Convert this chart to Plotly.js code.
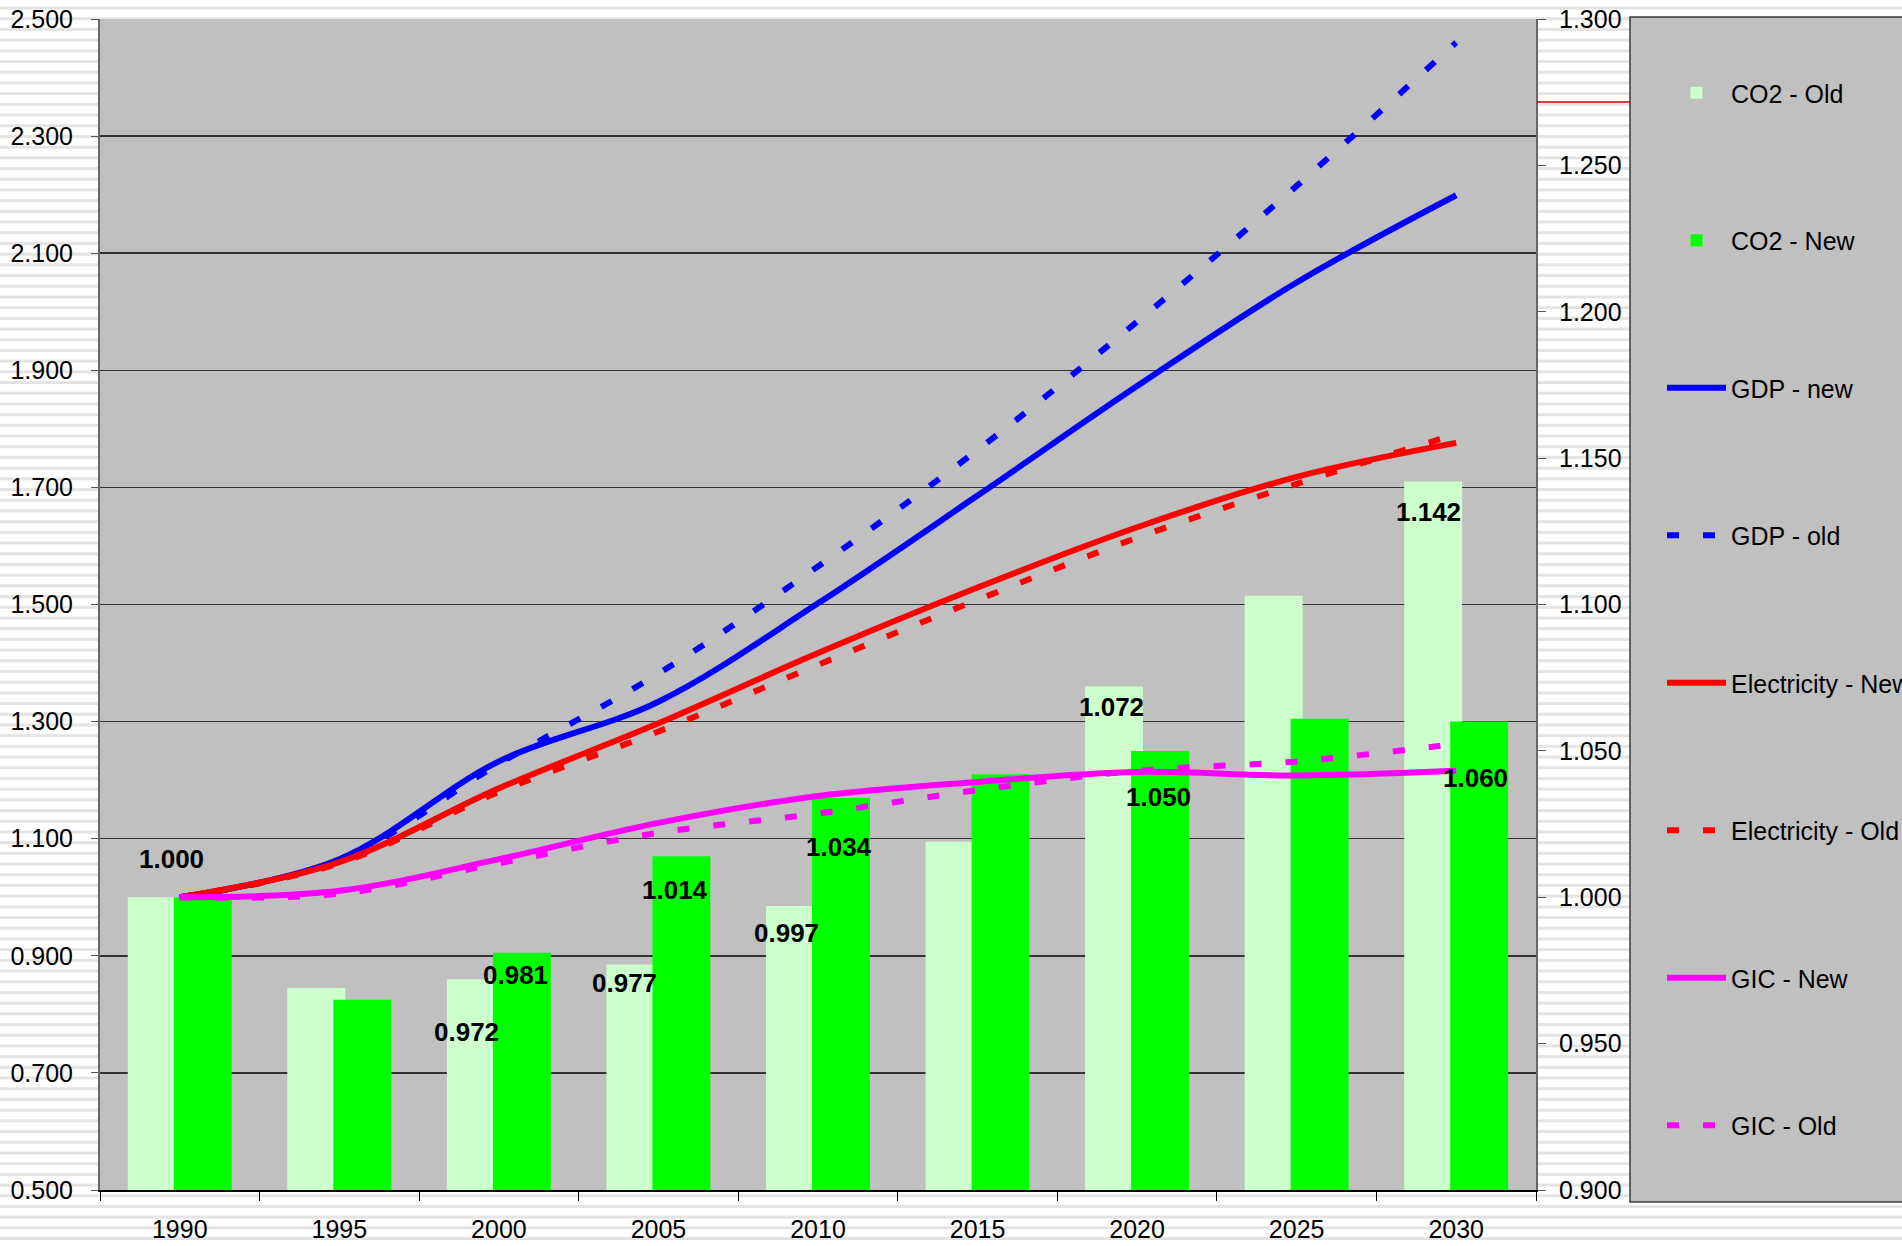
<!DOCTYPE html>
<html>
<head>
<meta charset="utf-8">
<script src="https://cdn.plot.ly/plotly-3.0.1.min.js"></script>
<style>
  html, body { margin: 0; padding: 0; }
  body {
    width: 1902px; height: 1246px; overflow: hidden;
    background: repeating-linear-gradient(to bottom, #ffffff 0px, #ffffff 6px, #e6e6e6 7px, #e2e2e2 9px, #ffffff 10px, #ffffff 10.7px);
  }
  #chart { width: 1902px; height: 1246px; }
</style>
</head>
<body>
<div id="chart"></div>
<script>
// ---------- data ----------
const years = ['1990', '1995', '2000', '2005', '2010', '2015', '2020', '2025', '2030'];

// bars (right axis)
const co2Old = [1.000, 0.969, 0.972, 0.977, 0.997, 1.019, 1.072, 1.103, 1.142];
const co2New = [1.000, 0.965, 0.981, 1.014, 1.034, 1.042, 1.050, 1.061, 1.060];

// lines (left axis)
const gdpNew  = [1.000, 1.065, 1.232, 1.334, 1.502, 1.686, 1.873, 2.050, 2.199];
const gdpOld  = [1.000, 1.063, 1.228, 1.382, 1.565, 1.764, 1.983, 2.215, 2.460];
const elecNew = [1.000, 1.060, 1.186, 1.297, 1.417, 1.529, 1.632, 1.718, 1.776];
const elecOld = [1.000, 1.058, 1.180, 1.283, 1.397, 1.508, 1.614, 1.706, 1.791];
const gicNew  = [1.000, 1.011, 1.065, 1.127, 1.173, 1.197, 1.214, 1.208, 1.216];
const gicOld  = [1.000, 1.006, 1.058, 1.110, 1.143, 1.183, 1.216, 1.232, 1.262];

const seriesNames = ['CO2 - Old', 'CO2 - New', 'GDP - new', 'GDP - old',
                     'Electricity - New', 'Electricity - Old', 'GIC - New', 'GIC - Old'];

// which bars carry a value label
const labelSeries = ['old', 'old', 'new', 'old', 'new', 'old', 'new', 'old', 'new', 'old', 'new'];
const labelYears  = ['1990', '2000', '2000', '2005', '2005', '2010', '2010', '2020', '2020', '2030', '2030'];

// ---------- styling / geometry ----------
const FONT = 'Liberation Sans, Arial, sans-serif';
const W = 1902, H = 1246;
const M = { l: 100, r: 366, t: 19, b: 56 };
const plotW = W - M.l - M.r, plotH = H - M.t - M.b;
const catPx = plotW / years.length;
const BAR_W = 0.363, OLD_OFF = -0.326, NEW_OFF = -0.0376;
const oldCenterPx = (OLD_OFF + BAR_W / 2) * catPx;
const newCenterPx = (NEW_OFF + BAR_W / 2) * catPx;
// label offsets relative to bar top-centre (px), right / down
const labelDx = [15, -9, -6, -11, -6, -8, -2, -3, -2, -5, -4];
const labelDy = [-38, 53, 22, 18, 34, 27, 49, 21, 46, 30, 56];

const px2paperX = p => (p - M.l) / plotW;
const px2paperY = p => 1 - (p - M.t) / plotH;
const DASH = '12px,24px';

function lineTrace(name, y, color, dashed, g) {
  return {
    type: 'scatter', mode: 'lines', name: name, x: years, y: y, yaxis: 'y2',
    line: { color: color, width: 6, shape: 'spline', dash: dashed ? DASH : 'solid' },
    legendgroup: g, hoverinfo: 'skip'
  };
}

const data = [
  { type: 'bar', name: seriesNames[0], x: years, y: co2Old, yaxis: 'y',
    width: BAR_W, offset: OLD_OFF, marker: { color: '#ccffcc', line: { width: 0 } },
    legendgroup: 'g1', hoverinfo: 'skip' },
  { type: 'bar', name: seriesNames[1], x: years, y: co2New, yaxis: 'y',
    width: BAR_W, offset: NEW_OFF, marker: { color: '#00ff00', line: { width: 0 } },
    legendgroup: 'g2', hoverinfo: 'skip' },
  lineTrace(seriesNames[2], gdpNew, '#0000ff', false, 'g3'),
  lineTrace(seriesNames[3], gdpOld, '#0000ff', true, 'g4'),
  lineTrace(seriesNames[4], elecNew, '#ff0000', false, 'g5'),
  lineTrace(seriesNames[5], elecOld, '#ff0000', true, 'g6'),
  lineTrace(seriesNames[6], gicNew, '#ff00ff', false, 'g7'),
  lineTrace(seriesNames[7], gicOld, '#ff00ff', true, 'g8')
];

const annotations = labelSeries.map((s, i) => {
  const idx = years.indexOf(labelYears[i]);
  const v = s === 'old' ? co2Old[idx] : co2New[idx];
  const cx = s === 'old' ? oldCenterPx : newCenterPx;
  return {
    xref: 'x', yref: 'y', x: idx, y: v,   // category index on the category axis
    text: v.toFixed(3), showarrow: false,
    xshift: cx + labelDx[i], yshift: -labelDy[i],
    font: { family: FONT, size: 26, color: '#000', weight: 700 }
  };
});

const shapes = [
  // legend frame
  { type: 'rect', xref: 'paper', yref: 'paper', layer: 'below',
    x0: px2paperX(1630), x1: px2paperX(1915), y0: px2paperY(1202), y1: px2paperY(17),
    fillcolor: '#c0c0c0', line: { color: '#3a3a3a', width: 1.5 } },
  // short red stroke between right axis and legend
  { type: 'line', xref: 'paper', yref: 'paper',
    x0: px2paperX(1537), x1: px2paperX(1630), y0: px2paperY(102), y1: px2paperY(102),
    line: { color: '#cc0000', width: 1.5 } }
];

const layout = {
  width: W, height: H,
  margin: { l: M.l, r: M.r, t: M.t, b: M.b, pad: 0, autoexpand: false },
  paper_bgcolor: 'rgba(0,0,0,0)',
  plot_bgcolor: '#c0c0c0',
  barmode: 'overlay',
  font: { family: FONT, size: 25, color: '#000' },
  showlegend: true,
  xaxis: {
    type: 'category', categoryorder: 'array', categoryarray: years,
    range: [-0.5, years.length - 0.5], autorange: false,
    tickson: 'boundaries', ticks: 'outside', ticklen: 9, tickangle: 0,
    tickcolor: '#000', tickwidth: 1, showline: true, linecolor: '#000', linewidth: 1.5,
    showgrid: false, zeroline: false, ticklabelstandoff: 16,
    tickfont: { family: FONT, size: 25, color: '#000' }
  },
  yaxis: {
    side: 'right', range: [0.9, 1.3], autorange: false, tick0: 0.9, dtick: 0.05, tickformat: '.3f',
    ticks: 'outside', ticklen: 8, tickcolor: '#555', showline: true, linecolor: '#666',
    linewidth: 2, showgrid: false, zeroline: false, ticklabelstandoff: 8,
    tickfont: { family: FONT, size: 25, color: '#000' }
  },
  yaxis2: {
    overlaying: 'y', side: 'left', range: [0.5, 2.5], autorange: false, tick0: 0.5, dtick: 0.2, tickformat: '.3f',
    ticks: 'outside', ticklen: 7, tickcolor: '#555', showline: true, linecolor: '#666',
    linewidth: 2, showgrid: true, gridcolor: '#333', gridwidth: 1.5, zeroline: false,
    ticklabelstandoff: 13,
    tickfont: { family: FONT, size: 25, color: '#000' }
  },
  legend: {
    x: px2paperX(1662), xanchor: 'left',
    y: px2paperY(70), yanchor: 'top',
    bgcolor: 'rgba(0,0,0,0)', borderwidth: 0,
    font: { family: FONT, size: 25, color: '#000' },
    traceorder: 'grouped', tracegroupgap: 112, itemwidth: 59
  },
  shapes: shapes,
  annotations: annotations
};

Plotly.newPlot('chart', data, layout, { displayModeBar: false, staticPlot: true });
</script>
</body>
</html>
